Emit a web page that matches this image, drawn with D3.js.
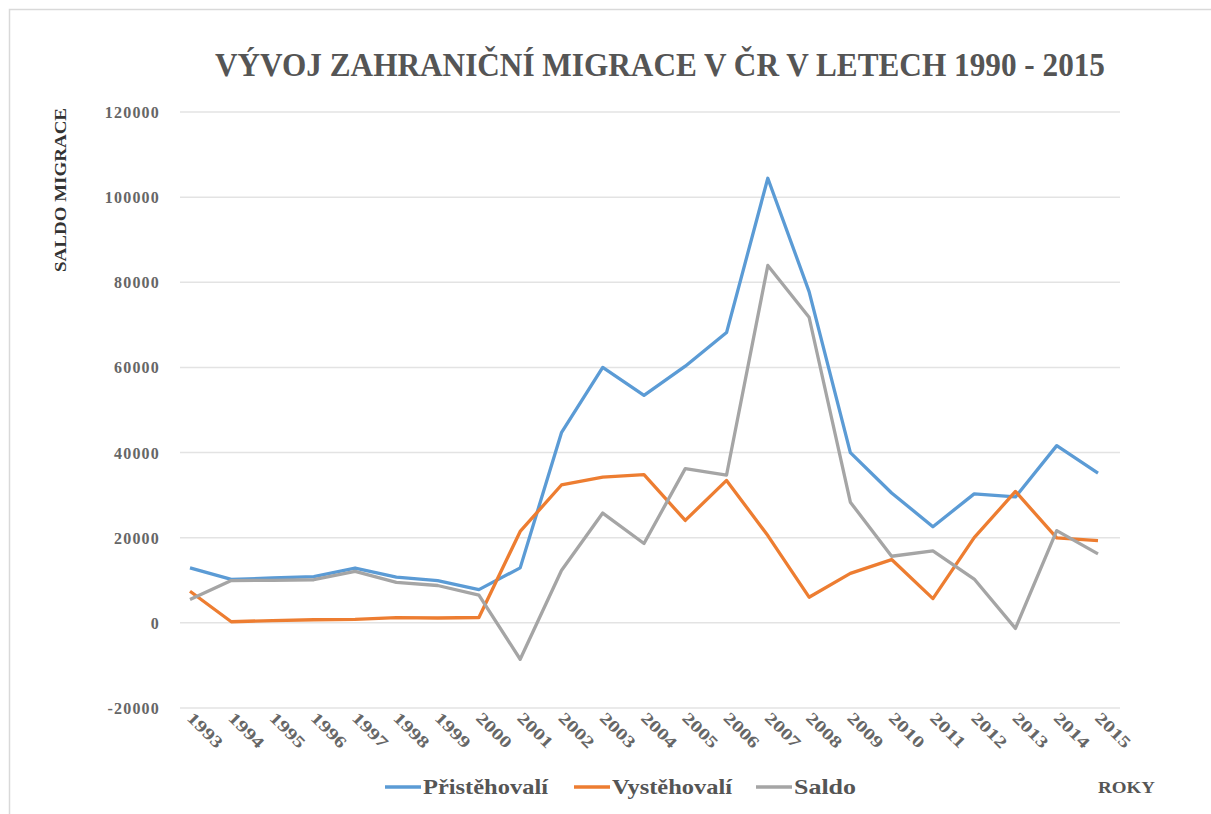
<!DOCTYPE html>
<html>
<head>
<meta charset="utf-8">
<script src="https://cdn.jsdelivr.net/npm/d3@7"></script>
<style>
  body { margin: 0; background: #fff; }
  svg text { font-family: "Liberation Serif", "DejaVu Serif", serif; font-weight: bold; }
</style>
</head>
<body>
<svg id="chart" width="1211" height="814"></svg>
<script>
let years = ["1993","1994","1995","1996","1997","1998","1999","2000","2001","2002","2003",
	     "2004","2005","2006","2007","2008","2009","2010","2011","2012","2013","2014","2015"];

let pristehovali = [12900, 10207, 10540, 10857, 12880, 10729, 9910, 7802, 12918, 44679, 60015,
		    53453, 60294, 68183, 104445, 77817, 39973, 30515, 22590, 30298, 29579, 41625, 35200];

let vystehovali = [7424, 265, 541, 728, 805, 1241, 1136, 1263, 21469, 32389, 34226,
		   34818, 24065, 33463, 20500, 6027, 11629, 14867, 5701, 20005, 30876, 19964, 19300];

let saldo = [5476, 9942, 9999, 10129, 12075, 9488, 8774, 6539, -8551, 12290, 25789,
	     18635, 36229, 34720, 83945, 71790, 28344, 15648, 16889, 10293, -1297, 21661, 16200];

let yTicks = [-20000, 0, 20000, 40000, 60000, 80000, 100000, 120000];

let series = [
    { name: "Přistěhovalí", values: pristehovali, color: "#5b9bd5" },
    { name: "Vystěhovalí", values: vystehovali, color: "#ed7d31" },
    { name: "Saldo", values: saldo, color: "#a5a5a5" }
];

let svg = d3.select("#chart");

// outer chart border
svg.append("rect")
    .attr("x", 9.5).attr("y", 9.5)
    .attr("width", 1230).attr("height", 830)
    .attr("fill", "none")
    .attr("stroke", "#d9d9d9")
    .attr("stroke-width", 1.5);

let plotLeft = 180, plotRight = 1120;

let x = d3.scalePoint()
    .domain(years)
    .range([190, 1098]);

let y = d3.scaleLinear()
    .domain([-20000, 120000])
    .range([708, 112]);

// gridlines
svg.append("g")
    .selectAll("line")
    .data(yTicks).enter()
    .append("line")
    .attr("x1", plotLeft).attr("x2", plotRight)
    .attr("y1", (d) => y(d)).attr("y2", (d) => y(d))
    .attr("stroke", "#e3e3e3")
    .attr("stroke-width", 1.5);

// y tick labels
svg.append("g")
    .selectAll("text")
    .data(yTicks).enter()
    .append("text")
    .attr("x", 160)
    .attr("y", (d) => y(d) + 6)
    .attr("text-anchor", "end")
    .attr("font-size", 16)
    .attr("letter-spacing", 1.2)
    .attr("fill", "#666")
    .text((d) => d);

// x tick labels, rotated
svg.append("g")
    .selectAll("text")
    .data(years).enter()
    .append("text")
    .attr("transform", (d) => "translate(" + (x(d) - 4) + "," + 719 + ") rotate(45)")
    .attr("font-size", 16.5)
    .attr("textLength", 43)
    .attr("lengthAdjust", "spacingAndGlyphs")
    .attr("fill", "#666")
    .text((d) => d);

// lines
let lineFunc = d3.line()
    .x((d, i) => x(years[i]))
    .y((d) => y(d));

svg.append("g")
    .selectAll("path")
    .data(series).enter()
    .append("path")
    .attr("d", (d) => lineFunc(d.values))
    .attr("fill", "none")
    .attr("stroke", (d) => d.color)
    .attr("stroke-width", 3.3)
    .attr("stroke-linejoin", "round");

// title
svg.append("text")
    .attr("x", 660)
    .attr("y", 76)
    .attr("text-anchor", "middle")
    .attr("font-size", 33)
    .attr("fill", "#555")
    .attr("textLength", 890)
    .attr("lengthAdjust", "spacingAndGlyphs")
    .text("VÝVOJ ZAHRANIČNÍ MIGRACE V ČR V LETECH 1990 - 2015");

// y axis title
svg.append("text")
    .attr("transform", "translate(66,190) rotate(-90)")
    .attr("text-anchor", "middle")
    .attr("font-size", 16)
    .attr("fill", "#333")
    .attr("textLength", 164)
    .attr("lengthAdjust", "spacingAndGlyphs")
    .text("SALDO MIGRACE");

// legend
let legendX = [385, 574, 756];
let legendW = [125, 120, 62];
let legend = svg.append("g")
    .selectAll("g")
    .data(series).enter()
    .append("g")
    .attr("transform", (d, i) => "translate(" + legendX[i] + ",787)");

legend.append("line")
    .attr("x1", 0).attr("x2", 36)
    .attr("stroke", (d) => d.color)
    .attr("stroke-width", 3.3);

legend.append("text")
    .attr("x", 38)
    .attr("y", 7)
    .attr("font-size", 21)
    .attr("fill", "#555")
    .attr("textLength", (d, i) => legendW[i])
    .attr("lengthAdjust", "spacingAndGlyphs")
    .text((d) => d.name);

svg.append("text")
    .attr("x", 1098)
    .attr("y", 793)
    .attr("font-size", 17)
    .attr("fill", "#555")
    .attr("textLength", 57)
    .attr("lengthAdjust", "spacingAndGlyphs")
    .text("ROKY");
</script>
</body>
</html>
